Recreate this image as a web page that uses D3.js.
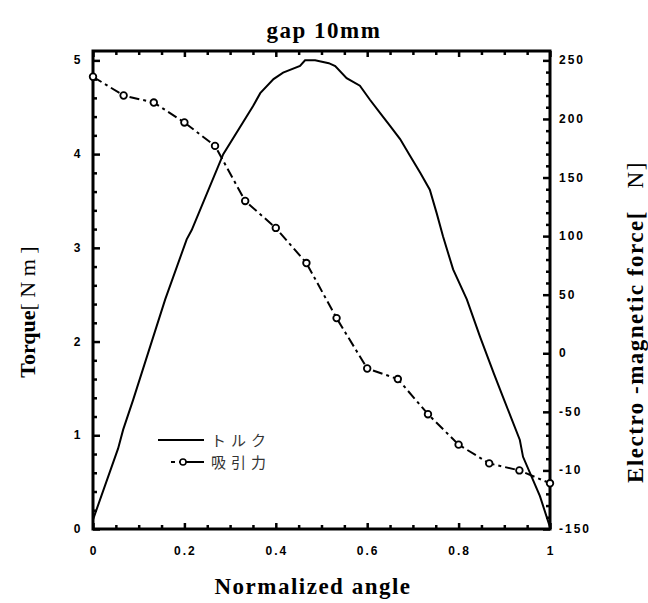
<!DOCTYPE html>
<html><head><meta charset="utf-8">
<script src="https://cdn.jsdelivr.net/npm/d3@7"></script>
<style>
html,body{margin:0;padding:0;background:#fff;}
svg{display:block;}
.tick-lab{font-family:"Liberation Sans",Arial,sans-serif;font-weight:bold;font-size:12px;letter-spacing:2px;fill:#000;}
.serif{font-family:"Liberation Serif","Times New Roman",serif;fill:#000;}
</style></head>
<body>
<script>
// ---- data ----
const torqueAngle = [0, 0.055, 0.066, 0.088, 0.158, 0.205, 0.216, 0.285, 0.350, 0.366, 0.395, 0.416, 0.453, 0.464, 0.486, 0.516, 0.530, 0.555, 0.584, 0.606, 0.628, 0.650, 0.672, 0.694, 0.716, 0.737, 0.752, 0.766, 0.788, 0.818, 0.847, 0.877, 0.897, 0.934, 0.941, 0.978, 1.0];
const torqueValue = [0.10, 0.86, 1.06, 1.38, 2.45, 3.09, 3.19, 4.00, 4.51, 4.65, 4.80, 4.87, 4.94, 5.00, 5.00, 4.97, 4.94, 4.81, 4.73, 4.58, 4.44, 4.30, 4.16, 3.98, 3.80, 3.62, 3.37, 3.12, 2.77, 2.45, 2.05, 1.66, 1.41, 0.95, 0.77, 0.35, 0.02];
const forceAngle = [0, 0.067, 0.133, 0.2, 0.267, 0.333, 0.4, 0.467, 0.533, 0.6, 0.667, 0.733, 0.8, 0.867, 0.933, 1.0];
const forceValue = [236, 220, 214, 197, 177, 130, 107, 77, 30, -13, -22, -52, -78, -94, -100, -111];
const xTicks = [0, 0.2, 0.4, 0.6, 0.8, 1];
const xTickLabels = ["0", "0.2", "0.4", "0.6", "0.8", "1"];
const yLeftTicks = [0, 1, 2, 3, 4, 5];
const yLeftTickLabels = ["0", "1", "2", "3", "4", "5"];
const yRightTicks = [-150, -100, -50, 0, 50, 100, 150, 200, 250];
const yRightTickLabels = ["-150", "-10", "-50", "0", "50", "100", "150", "200", "250"];
const legendLabels = ["トルク", "吸引力"];

const W = 648, H = 603;
const svg = d3.select("body").append("svg").attr("width", W).attr("height", H);

const x = d3.scaleLinear().domain([0, 1]).range([93, 550]);
const yL = d3.scaleLinear().domain([0, 5.1]).range([529, 51]);
const yR = d3.scaleLinear().domain([-150, 258]).range([529, 51]);

const pLeft = x(0), pRight = x(1), pTop = yL(5.1), pBottom = yL(0);

// ---- axes ----
function styleAxis(g) {
  g.select(".domain").remove();
  g.selectAll(".tick line").attr("stroke", "#000").attr("stroke-width", 2.5);
}
const xMinor = d3.range(0, 1.0001, 0.05).filter(v => Math.abs(v * 5 - Math.round(v * 5)) > 1e-6);
const yLMinor = d3.range(0, 5.0001, 0.2).filter(v => Math.abs(v - Math.round(v)) > 1e-6);
const yRMinor = d3.range(-150, 250.001, 10).filter(v => v % 50 !== 0);

// bottom
const gB = svg.append("g").attr("transform", `translate(0,${pBottom})`);
gB.call(d3.axisBottom(x).tickValues(xTicks).tickSize(-6).tickFormat(""));
styleAxis(gB);
const gBm = svg.append("g").attr("transform", `translate(0,${pBottom})`);
gBm.call(d3.axisBottom(x).tickValues(xMinor).tickSize(-4).tickFormat(""));
styleAxis(gBm);
svg.append("g").selectAll("text").data(xTicks).join("text")
  .attr("class", "tick-lab").attr("x", d => x(d) + 1).attr("y", pBottom + 26)
  .attr("text-anchor", "middle").text((d, i) => xTickLabels[i]);

// top
const gT = svg.append("g").attr("transform", `translate(0,${pTop})`);
gT.call(d3.axisTop(x).tickValues(xTicks).tickSize(-6).tickFormat(""));
styleAxis(gT);
const gTm = svg.append("g").attr("transform", `translate(0,${pTop})`);
gTm.call(d3.axisTop(x).tickValues(xMinor).tickSize(-4).tickFormat(""));
styleAxis(gTm);

// left
const gL = svg.append("g").attr("transform", `translate(${pLeft},0)`);
gL.call(d3.axisLeft(yL).tickValues(yLeftTicks).tickSize(-7).tickFormat(""));
styleAxis(gL);
const gLm = svg.append("g").attr("transform", `translate(${pLeft},0)`);
gLm.call(d3.axisLeft(yL).tickValues(yLMinor).tickSize(-4).tickFormat(""));
styleAxis(gLm);
svg.append("g").selectAll("text").data(yLeftTicks).join("text")
  .attr("class", "tick-lab").attr("x", pLeft - 15).attr("y", d => yL(d) + 4)
  .attr("text-anchor", "middle").text((d, i) => yLeftTickLabels[i]);

// right
const gR = svg.append("g").attr("transform", `translate(${pRight},0)`);
gR.call(d3.axisRight(yR).tickValues(yRightTicks).tickSize(-7).tickFormat(""));
styleAxis(gR);
const gRm = svg.append("g").attr("transform", `translate(${pRight},0)`);
gRm.call(d3.axisRight(yR).tickValues(yRMinor).tickSize(-4).tickFormat(""));
styleAxis(gRm);
svg.append("g").selectAll("text").data(yRightTicks).join("text")
  .attr("class", "tick-lab").attr("x", pRight + 9).attr("y", d => yR(d) + 4)
  .attr("text-anchor", "start").text((d, i) => yRightTickLabels[i]);

// frame
svg.append("rect").attr("x", pLeft).attr("y", pTop).attr("width", pRight - pLeft).attr("height", pBottom - pTop)
  .attr("fill", "none").attr("stroke", "#000").attr("stroke-width", 3);

// ---- series ----
const torqueData = torqueAngle.map((a, i) => [a, torqueValue[i]]);
const forceData = forceAngle.map((a, i) => [a, forceValue[i]]);

svg.append("path").datum(torqueData)
  .attr("d", d3.line().x(d => x(d[0])).y(d => yL(d[1])))
  .attr("fill", "none").attr("stroke", "#000").attr("stroke-width", 2);

svg.append("path").datum(forceData)
  .attr("d", d3.line().x(d => x(d[0])).y(d => yR(d[1])))
  .attr("fill", "none").attr("stroke", "#000").attr("stroke-width", 2)
  .attr("stroke-dasharray", "10,4,3,4");

svg.append("g").selectAll("circle").data(forceData).join("circle")
  .attr("cx", d => x(d[0])).attr("cy", d => yR(d[1])).attr("r", 3.3)
  .attr("fill", "#fff").attr("stroke", "#000").attr("stroke-width", 1.8);

// ---- legend ----
const lg = svg.append("g");
lg.append("line").attr("x1", 158).attr("x2", 204).attr("y1", 440).attr("y2", 440)
  .attr("stroke", "#000").attr("stroke-width", 2);
lg.append("line").attr("x1", 171).attr("x2", 204).attr("y1", 462).attr("y2", 462)
  .attr("stroke", "#000").attr("stroke-width", 2).attr("stroke-dasharray", "4,4,30");
lg.append("circle").attr("cx", 183).attr("cy", 462).attr("r", 3).attr("fill", "#fff")
  .attr("stroke", "#000").attr("stroke-width", 1.5);
lg.selectAll("text").data(legendLabels).join("text")
  .attr("x", 211).attr("y", (d, i) => 446 + i * 22)
  .attr("font-family", "'Noto Sans CJK JP', sans-serif").attr("font-size", 15)
  .attr("letter-spacing", 5).attr("fill", "#333").text(d => d);

// ---- titles ----
svg.append("text").attr("class", "serif").attr("x", 324).attr("y", 38)
  .attr("text-anchor", "middle").attr("font-size", 23).attr("font-weight", "bold")
  .attr("letter-spacing", 1.5).text("gap 10mm");

svg.append("text").attr("class", "serif").attr("x", 313).attr("y", 594)
  .attr("text-anchor", "middle").attr("font-size", 23).attr("font-weight", "bold")
  .attr("letter-spacing", 1.5).text("Normalized angle");

const yl = svg.append("text").attr("class", "serif")
  .attr("transform", "translate(35,312) rotate(-90)").attr("text-anchor", "middle").attr("font-size", 22);
yl.append("tspan").attr("font-weight", "bold").text("Torque");
yl.append("tspan").attr("font-weight", "normal").text("[ N m ]");

const yr = svg.append("text").attr("class", "serif")
  .attr("transform", "translate(643,322) rotate(-90)").attr("text-anchor", "middle").attr("font-size", 23)
  .attr("letter-spacing", 1.5);
yr.append("tspan").attr("font-weight", "bold").text("Electro -magnetic force[");
yr.append("tspan").attr("font-weight", "normal").text("\u00a0\u00a0\u00a0N]");
</script>
</body></html>
